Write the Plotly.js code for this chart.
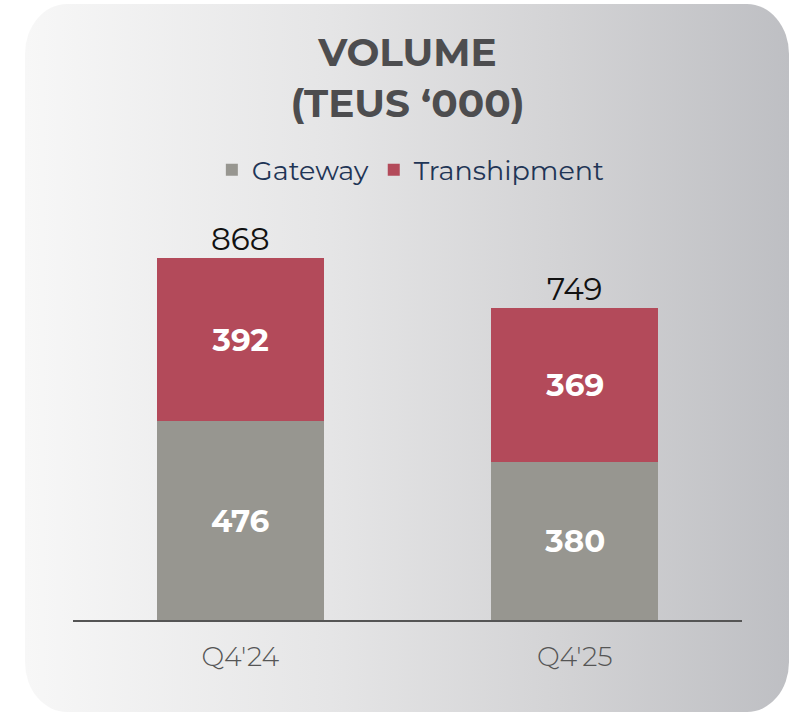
<!DOCTYPE html>
<html>
<head>
<meta charset="utf-8">
<script src="https://cdn.plot.ly/plotly-3.0.1.min.js"></script>
<style>
  html, body { margin: 0; padding: 0; background: #ffffff; }
  #wrap { position: relative; width: 795px; height: 712px; overflow: hidden; }
  #card { position: absolute; left: 25px; top: 4px; width: 764px; height: 708px;
          border-radius: 42px / 50px;
          background: linear-gradient(to right, #f7f7f7 0%, #e5e5e6 40%, #d3d3d5 70%, #bebfc3 100%); }
  #chart { position: absolute; left: 0; top: 0; width: 795px; height: 712px; }
</style>
</head>
<body>
<div id="wrap">
  <div id="card"></div>
  <div id="chart"></div>
</div>
<script>
const categories = ["Q4'24", "Q4'25"];
const gateway = [476, 380];
const transhipment = [392, 369];
const totals = [868, 749];

const FONT = "Montserrat, 'DejaVu Sans', sans-serif";

const traces = [
  {
    type: 'bar', name: 'Gateway', x: categories, y: gateway,
    text: gateway.map(String), textposition: 'inside', insidetextanchor: 'middle',
    constraintext: 'none',
    textfont: { family: FONT, size: 31, color: '#ffffff', weight: 'bold' },
    marker: { color: '#979690', line: { width: 0 } },
    hoverinfo: 'x+y+name'
  },
  {
    type: 'bar', name: 'Transhipment', x: categories, y: transhipment,
    text: transhipment.map(String), textposition: 'inside', insidetextanchor: 'middle',
    constraintext: 'none',
    textfont: { family: FONT, size: 31, color: '#ffffff', weight: 'bold' },
    marker: { color: '#b34a5a', line: { width: 0 } },
    hoverinfo: 'x+y+name'
  },
  {
    type: 'scatter', mode: 'text', x: categories, y: totals,
    text: totals.map(String), textposition: 'top center',
    textfont: { family: FONT, size: 31, color: '#111111' },
    showlegend: false, hoverinfo: 'skip', cliponaxis: false
  }
];

const layout = {
  width: 795, height: 712,
  paper_bgcolor: 'rgba(0,0,0,0)', plot_bgcolor: 'rgba(0,0,0,0)',
  margin: { l: 73, r: 53, t: 200, b: 92 },
  barmode: 'stack', bargap: 0.5,
  title: {
    text: '<b>VOLUME<br>(TEUS ‘000)</b>',
    font: { family: FONT, size: 39, color: '#4d4d4f' },
    x: 0.5, xanchor: 'center', xref: 'paper',
    y: 0.907, yanchor: 'top', yref: 'container'
  },
  legend: {
    orientation: 'h', x: 0.505, xanchor: 'center', y: 1.071, yanchor: 'middle',
    traceorder: 'normal', bgcolor: 'rgba(0,0,0,0)',
    font: { family: FONT, size: 27, color: '#1f3556' },
    itemclick: false, itemdoubleclick: false
  },
  xaxis: {
    type: 'category', range: [-0.5, 1.5],
    showline: true, linecolor: '#555555', linewidth: 2,
    ticks: 'outside', ticklen: 12, tickcolor: 'rgba(0,0,0,0)',
    tickfont: { family: FONT, size: 27, color: '#555555', weight: 300 },
    showgrid: false, zeroline: false, fixedrange: true
  },
  yaxis: {
    range: [0, 1007], visible: false, showgrid: false, zeroline: false, fixedrange: true
  },
  showlegend: true
};

Plotly.newPlot('chart', traces, layout, { displayModeBar: false });
</script>
</body>
</html>
